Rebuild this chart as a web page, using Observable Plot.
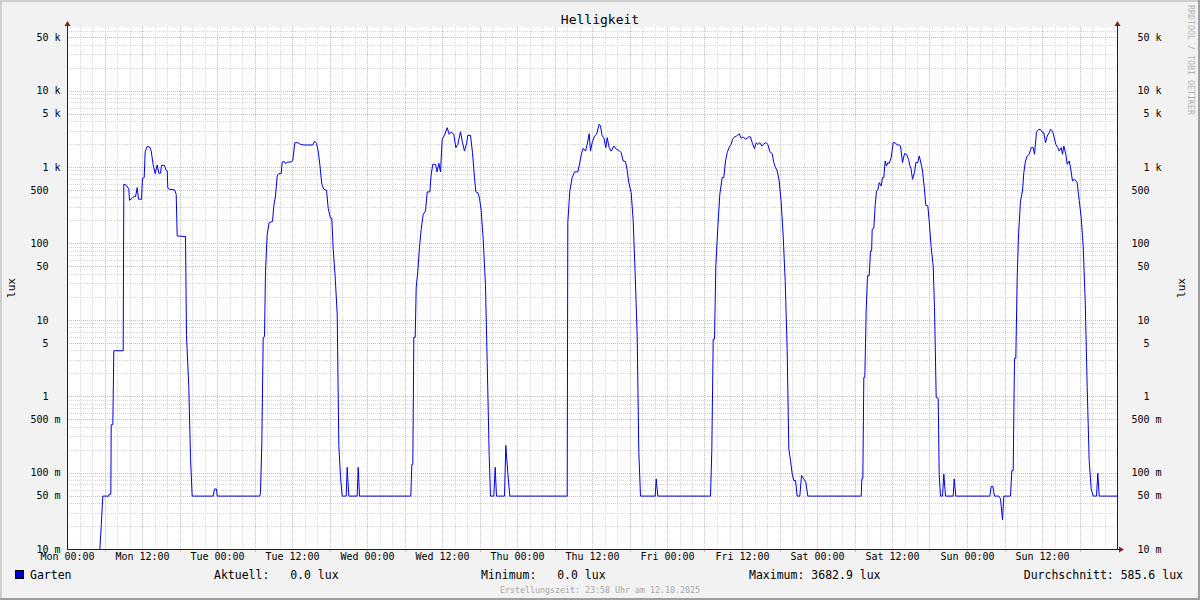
<!DOCTYPE html>
<html><head><meta charset="utf-8">
<script src="https://cdn.jsdelivr.net/npm/d3@7"></script>
<script src="https://cdn.jsdelivr.net/npm/@observablehq/plot@0.6"></script>
<style>
html,body{margin:0;padding:0;background:#f2f2f2;}
#chart svg{display:block;}
#chart svg text{white-space:pre;}
</style></head><body><div id="chart"></div>
<script>
// ---- data: hours since Mon 00:00, brightness in lux ----
const hours = [
0,5.17,5.39,5.65,6.61,6.66,6.93,6.99,7.25,7.41,8.91,9.01,9.44,9.81,9.92,10.35,10.72,10.88,11.15,11.36,11.84,12.0,12.27,12.43,12.75,13.17,13.39,13.71,14.03,14.35,14.61,14.88,15.04,15.52,15.73,15.95,16.05,16.32,17.12,17.39,17.55,18.88,19.04,19.41,19.68,19.95,23.31,23.52,23.84,23.95,
30.77,30.88,31.09,31.31,31.52,31.68,31.95,32.27,32.8,33.01,33.28,33.55,33.81,34.19,34.35,34.72,34.88,35.15,35.89,36.05,36.37,36.85,37.28,37.81,39.25,39.52,39.84,40.11,40.37,40.69,41.01,41.44,41.71,42.08,42.29,42.51,42.83,43.15,43.41,43.68,43.95,44.59,44.75,45.01,46.35,46.51,46.72,
54.93,55.09,55.25,55.41,55.63,55.79,56.05,56.32,56.59,56.91,57.28,57.55,57.97,58.19,58.45,58.88,59.15,59.41,59.68,59.95,60.32,60.75,61.07,61.39,61.81,62.13,62.45,62.88,63.2,63.52,63.84,64.05,64.48,64.8,65.12,65.33,65.65,65.92,66.19,66.51,66.88,67.15,67.47,67.68,68.21,68.43,68.64,69.92,70.13,70.45,70.77,
79.95,80.05,80.37,80.75,81.12,81.65,81.97,82.24,82.51,82.88,83.15,83.47,83.68,83.95,84.32,84.64,85.07,85.28,85.55,85.81,86.13,86.35,86.67,86.99,87.41,87.84,88.21,88.59,88.91,89.28,89.55,89.81,90.19,90.51,90.83,91.15,91.41,91.68,94.03,94.19,94.45,
102.88,103.09,103.31,103.52,103.73,104.05,104.37,104.75,105.01,105.28,105.55,105.87,106.19,106.4,106.72,107.04,107.47,107.79,108.11,108.48,109.01,109.28,109.6,109.92,110.19,110.45,110.77,111.09,111.41,111.73,112.05,112.37,112.75,113.01,113.28,113.55,113.87,114.19,114.51,114.83,115.15,115.41,115.68,115.95,116.21,116.48,116.75,117.17,117.44,117.81,118.13,118.45,
126.99,127.09,127.25,127.41,127.57,127.79,128.0,128.27,128.48,128.66,128.75,129.01,129.23,129.44,129.65,129.87,130.19,130.4,130.61,130.83,131.04,131.25,131.47,131.79,132.11,132.43,132.75,133.07,133.28,133.6,133.92,134.24,134.56,134.77,134.99,135.2,135.52,135.73,136.05,136.27,136.48,136.8,137.12,137.33,137.65,137.87,138.19,138.51,138.72,138.99,139.31,139.47,139.68,140.0,140.21,140.48,141.71,141.87,142.13,147.57,147.79,148.05,148.32,149.01,149.28,149.6,149.81,
150.88,151.09,151.31,151.52,151.73,151.95,152.16,152.48,152.8,153.01,153.28,153.55,153.87,154.19,154.51,154.72,155.04,155.36,155.68,156.0,156.21,156.48,156.75,157.07,157.28,157.6,157.81,158.13,158.45,158.67,158.99,159.2,159.41,159.73,159.95,160.27,160.48,160.8,161.12,161.33,161.55,161.87,162.19,162.51,162.83,163.15,163.47,163.79,164.11,164.64,164.85,165.07,168
];
const lux = [
0.01,0.01,0.02,0.05,0.05,0.053,0.053,0.43,0.43,4.0,4.0,603,585,519,372,395,425,412,545,384,384,723,737,1610,1890,1850,1640,1080,832,1080,840,840,1067,1067,937,900,535,519,510,446,127,125,6.3,1.32,0.16,0.05,0.05,0.062,0.062,0.05,
0.05,0.056,0.24,5.97,6.1,44,134,190,196,314,424,775,832,832,1180,1190,1120,1170,1190,1250,2110,2110,2010,1970,1970,2220,2070,1645,1100,603,519,503,293,217,217,85,37,12,0.23,0.09,0.05,0.05,0.119,0.05,0.05,0.119,0.05,
0.05,0.13,0.13,5.97,5.97,26.9,44,90,156,244,270,479,479,815,1100,1100,875,1135,875,2340,2660,3320,2716,2913,2716,1820,2010,2940,2113,1640,2050,2636,2636,1560,738,479,470,395,275,115,28.3,2.81,0.17,0.05,0.05,0.119,0.05,0.05,0.23,0.10,0.05,
0.05,190,493,738,875,875,1160,1520,1780,1640,2010,2770,1640,2110,2580,2716,3683,3490,2582,2455,1820,2455,1820,1640,1910,1730,1680,1560,1217,1194,919,634,469,200,40,6.1,0.187,0.05,0.05,0.084,0.05,
0.05,0.197,5.68,5.68,51.6,164,446,738,738,1217,1560,1850,2010,2340,2520,2582,2770,2410,2520,2340,2520,2520,2050,1770,2110,2010,2110,1910,2050,2110,2010,1610,1520,1160,1000,902,667,348,127,32.9,4.0,0.207,0.146,0.098,0.08,0.08,0.05,0.05,0.093,0.084,0.076,0.05,
0.05,0.084,0.084,1.79,1.79,13.6,38.2,38.2,81,81,156,160,320,493,508,634,574,738,738,1217,1047,1159,1130,1346,2110,2110,1973,1973,1914,1160,1520,1490,1280,1068,947,701,857,1160,1160,1416,1217,901,508,320,315,200,90,51.6,14.7,0.98,0.95,0.096,0.05,0.05,0.097,0.05,0.05,0.084,0.05,0.05,0.067,0.067,0.05,0.05,0.046,0.0245,0.05,
0.05,0.108,0.108,3.17,3.17,36.3,127,366,493,857,1217,1416,1490,1820,1820,1490,2910,3150,3150,2855,2855,2110,2582,2855,3150,3006,2582,2010,1820,1640,1820,1490,1914,1490,1100,1217,1000,667,701,667,634,372,221,94,18,1.32,0.146,0.062,0.05,0.05,0.1,0.05,0.05
];
const seriesName = "Garten";
const chartTitle = "Helligkeit";
const unitLabel = "lux";
const yTicks = [0.01,0.05,0.1,0.5,1,5,10,50,100,500,1000,5000,10000,50000];
const yTickLabels = ["10 m","50 m","100 m","500 m","1","5","10","50","100","500","1 k","5 k","10 k","50 k"];
const xTicks = [0,12,24,36,48,60,72,84,96,108,120,132,144,156];
const xTickLabels = ["Mon 00:00","Mon 12:00","Tue 00:00","Tue 12:00","Wed 00:00","Wed 12:00","Thu 00:00","Thu 12:00","Fri 00:00","Fri 12:00","Sat 00:00","Sat 12:00","Sun 00:00","Sun 12:00"];
const statLabels = ["Aktuell:   0.0 lux","Minimum:   0.0 lux","Maximum: 3682.9 lux","Durchschnitt: 585.6 lux"];
const footer = "Erstellungszeit: 23:58 Uhr am 12.10.2025";
const watermark = "RRDTOOL / TOBI OETIKER";

// ---- layout ----
const W = 1200, H = 600, mL = 67, mR = 83, mT = 27, mB = 51;
const yMax = 68000;
const data = hours.map((h, i) => ({h, v: lux[i]}));
const yLab = new Map(yTicks.map((t, i) => [t, yTickLabels[i]]));
const xLab = new Map(xTicks.map((t, i) => [t, xTickLabels[i]]));
const padY = s => /[a-z]/i.test(s) ? s.replace(" ", "\u00a0") : s + "\u00a0\u00a0";

const minorY = [];
for (let e = -2; e <= 4; e++) for (const m of [2,3,4,6,7,8,9]) { const v = m * 10 ** e; if (v < yMax) minorY.push(v); }
const majorY = yTicks.filter(v => v > 0.01);
const minorX = d3.range(2, 168, 2).filter(h => h % 6 !== 0);
const majorX = d3.range(6, 168, 6);
const gridMinor = "#d5d5d5";
const gridMajor = "#eaaeae";

const chart = Plot.plot({
  width: W, height: H,
  marginLeft: mL, marginRight: mR, marginTop: mT, marginBottom: mB,
  style: {background: "#f2f2f2", fontFamily: "'DejaVu Sans Mono', monospace", fontSize: "10px", color: "#000", overflow: "visible"},
  x: {type: "linear", domain: [0, 168], axis: null},
  y: {type: "log", domain: [0.01, yMax], axis: null},
  marks: [
    Plot.frame({fill: "#ffffff", stroke: "none"}),
    Plot.ruleY(minorY, {stroke: gridMinor, strokeDasharray: "1,1", strokeWidth: 1, className: "grid"}),
    Plot.ruleX(minorX, {stroke: gridMinor, strokeDasharray: "1,1", strokeWidth: 1, className: "grid"}),
    Plot.ruleY(majorY, {stroke: gridMajor, strokeDasharray: "1,1", strokeWidth: 1, className: "grid"}),
    Plot.ruleX(majorX, {stroke: gridMajor, strokeDasharray: "1,1", strokeWidth: 1, className: "grid"}),
    Plot.line(data, {x: "h", y: "v", stroke: "#0000e6", strokeWidth: 1}),
    Plot.text(yTicks, {y: d => d, text: d => padY(yLab.get(d)), frameAnchor: "left", dx: -7, textAnchor: "end", fontSize: 10, fill: "#000"}),
    Plot.text(yTicks, {y: d => d, text: d => padY(yLab.get(d)), frameAnchor: "right", dx: 44, textAnchor: "end", fontSize: 10, fill: "#000"}),
    Plot.text(xTicks, {x: d => d, text: d => xLab.get(d), frameAnchor: "bottom", dy: 10.5, textAnchor: "middle", fontSize: 10, fill: "#000"})
  ]
});
document.getElementById("chart").appendChild(chart);

// snap grid lines to whole pixels, like rrdtool does
d3.select(chart).selectAll(".grid line").each(function() {
  const el = d3.select(this);
  ["x1", "x2", "y1", "y2"].forEach(a => {
    const v = el.attr(a);
    if (v != null && v !== "") el.attr(a, Math.round(+v));
  });
});

// ---- rrdtool-like decorations ----
const svg = d3.select(chart);
const xs = chart.scale("x"), ys = chart.scale("y");
const x0 = xs.apply(0), x1 = xs.apply(168), yb = ys.apply(0.01);
const axisCol = "#1f1f1f", arrowCol = "#7f1f1f";
const g = svg.append("g").attr("text-anchor", "start");
// small red ticks below the time axis at the major grid lines
majorX.forEach(h => {
  const px = Math.round(xs.apply(h)) + 0.5;
  g.append("line").attr("x1", px).attr("x2", px).attr("y1", yb).attr("y2", yb + 3).attr("stroke", gridMajor);
});
g.append("line").attr("x1", x0 + 0.5).attr("x2", x0 + 0.5).attr("y1", yb).attr("y2", 22).attr("stroke", axisCol);
g.append("line").attr("x1", x1 + 0.5).attr("x2", x1 + 0.5).attr("y1", yb).attr("y2", 22).attr("stroke", axisCol);
g.append("line").attr("x1", x0).attr("x2", x1 + 4).attr("y1", yb + 0.5).attr("y2", yb + 0.5).attr("stroke", axisCol);
g.append("path").attr("d", `M${x0-2.5},26L${x0+3.5},26L${x0+0.5},21Z`).attr("fill", arrowCol);
g.append("path").attr("d", `M${x1-2.5},26L${x1+3.5},26L${x1+0.5},21Z`).attr("fill", arrowCol);
g.append("path").attr("d", `M${x1+2},${yb-2.5}L${x1+2},${yb+3.5}L${x1+7},${yb+0.5}Z`).attr("fill", arrowCol);

// frame shading
g.append("line").attr("x1", 0).attr("x2", W).attr("y1", 1).attr("y2", 1).attr("stroke", "#cfcfcf").attr("stroke-width", 2);
g.append("line").attr("x1", 1).attr("x2", 1).attr("y1", 0).attr("y2", H).attr("stroke", "#cfcfcf").attr("stroke-width", 2);
g.append("line").attr("x1", 0).attr("x2", W).attr("y1", H - 1).attr("y2", H - 1).attr("stroke", "#9e9e9e").attr("stroke-width", 2);
g.append("line").attr("x1", W - 1).attr("x2", W - 1).attr("y1", 0).attr("y2", H).attr("stroke", "#9e9e9e").attr("stroke-width", 2);

const font = "'DejaVu Sans Mono', monospace";
g.append("text").text(chartTitle).attr("x", 600).attr("y", 23.5).attr("text-anchor", "middle")
  .attr("font-family", font).attr("font-size", 13).attr("fill", "#000");
g.append("text").text(unitLabel).attr("transform", "translate(14.5,288) rotate(-90)").attr("text-anchor", "middle")
  .attr("font-family", font).attr("font-size", 11).attr("fill", "#000");
g.append("text").text(unitLabel).attr("transform", "translate(1184.5,288) rotate(-90)").attr("text-anchor", "middle")
  .attr("font-family", font).attr("font-size", 11).attr("fill", "#000");
g.append("text").text(watermark).attr("transform", "translate(1188,60) rotate(90)").attr("text-anchor", "middle")
  .attr("font-family", font).attr("font-size", 8.3).attr("fill", "#b4b4b4");

// legend
g.append("rect").attr("x", 15.5).attr("y", 570.5).attr("width", 8).attr("height", 8)
  .attr("fill", "#0000cc").attr("stroke", "#000").attr("stroke-width", 1);
const legY = 579;
g.append("text").text(seriesName).attr("x", 30).attr("y", legY).attr("text-anchor", "start")
  .attr("font-family", font).attr("font-size", 11.5).attr("fill", "#000");
const statX = [214, 481, 749];
statLabels.slice(0, 3).forEach((s, i) => {
  g.append("text").text(s).attr("x", statX[i]).attr("y", legY).attr("text-anchor", "start")
    .attr("font-family", font).attr("font-size", 11.5).attr("fill", "#000");
});
g.append("text").text(statLabels[3]).attr("x", 1183).attr("y", legY).attr("text-anchor", "end")
  .attr("font-family", font).attr("font-size", 11.5).attr("fill", "#000");
g.append("text").text(footer).attr("x", 600).attr("y", 592.5).attr("text-anchor", "middle")
  .attr("font-family", font).attr("font-size", 8.3).attr("fill", "#a8a8a8");
</script></body></html>
